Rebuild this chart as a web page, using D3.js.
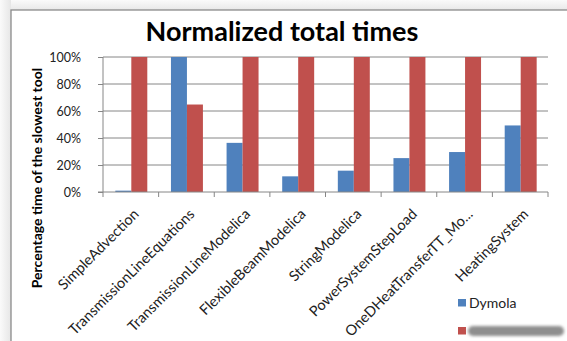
<!DOCTYPE html>
<html>
<head>
<meta charset="utf-8">
<script src="https://cdn.jsdelivr.net/npm/d3@7/dist/d3.min.js"></script>
<style>
  html, body { margin: 0; padding: 0; background: #fff; }
  svg { display: block; }
</style>
</head>
<body>
<svg id="chart" width="567" height="341"></svg>
<script>
// Benchmark models and normalized total simulation times (share of the slowest tool)
const categories = [
  "SimpleAdvection",
  "TransmissionLineEquations",
  "TransmissionLineModelica",
  "FlexibleBeamModelica",
  "StringModelica",
  "PowerSystemStepLoad",
  "OneDHeatTransferTT_Mo...",
  "HeatingSystem"
];
const dymola = [0.01, 1.00, 0.364, 0.116, 0.158, 0.251, 0.296, 0.493];
const otherTool = [1.00, 0.648, 1.00, 1.00, 1.00, 1.00, 1.00, 1.00];
const yTicks = [0, 0.2, 0.4, 0.6, 0.8, 1.0];
const seriesNames = ["Dymola", ""];
const colors = ["#4F81BD", "#C0504D"];

const W = 567, H = 341;
const svg = d3.select("#chart");
const font = "Lato, 'Open Sans', sans-serif";

// Soft shaded surround and chart frame
const defs = svg.append("defs");
const gl = defs.append("linearGradient").attr("id", "shadeL").attr("x1", 0).attr("x2", 1);
gl.append("stop").attr("offset", 0).attr("stop-color", "#fafafa");
gl.append("stop").attr("offset", 1).attr("stop-color", "#e6e6e6");
const gt = defs.append("linearGradient").attr("id", "shadeT").attr("x1", 0).attr("x2", 0).attr("y1", 0).attr("y2", 1);
gt.append("stop").attr("offset", 0).attr("stop-color", "#fafafa");
gt.append("stop").attr("offset", 1).attr("stop-color", "#e8e8e8");
defs.append("filter").attr("id", "smudge").attr("x", "-20%").attr("y", "-60%").attr("width", "140%").attr("height", "220%")
  .append("feGaussianBlur").attr("stdDeviation", 1.6);

svg.append("rect").attr("x", 0).attr("y", 0).attr("width", W).attr("height", 10).attr("fill", "url(#shadeT)");
svg.append("rect").attr("x", 0).attr("y", 0).attr("width", 11).attr("height", H).attr("fill", "url(#shadeL)");
svg.append("rect").attr("x", 11).attr("y", 10).attr("width", W).attr("height", H)
  .attr("fill", "#fff").attr("stroke", "#8a8a8a").attr("stroke-width", 1.3);

// Plot area
const plot = { left: 103, right: 548, top: 57, bottom: 192 };

const x0 = d3.scaleBand().domain(categories).range([plot.left, plot.right]).paddingInner(0).paddingOuter(0);
const x1 = d3.scaleBand().domain([0, 1]).range([0, x0.bandwidth()]).paddingInner(0).paddingOuter(0.74);
const y = d3.scaleLinear().domain([0, 1]).range([plot.bottom, plot.top]);

// Horizontal gridlines
svg.append("g").selectAll("line").data(yTicks.slice(1)).join("line")
  .attr("x1", plot.left).attr("x2", plot.right)
  .attr("y1", d => y(d)).attr("y2", d => y(d))
  .attr("stroke", "#868686").attr("stroke-width", 1);

// Bars
const groups = svg.append("g").selectAll("g").data(categories).join("g")
  .attr("transform", d => `translate(${x0(d)},0)`);
groups.selectAll("rect")
  .data((d, i) => [dymola[i], otherTool[i]].map((v, s) => ({ v, s })))
  .join("rect")
  .attr("x", d => x1(d.s) + 0.5)
  .attr("width", x1.bandwidth())
  .attr("y", d => y(d.v))
  .attr("height", d => y(0) - y(d.v))
  .attr("fill", d => colors[d.s]);

// Y axis
const yAxis = d3.axisLeft(y).tickValues(yTicks).tickFormat(d3.format(".0%")).tickSize(5).tickPadding(17);
const gy = svg.append("g").attr("transform", `translate(${plot.left},0)`).call(yAxis);
gy.select(".domain").attr("stroke", "#868686").attr("d", `M0,${plot.top}V${plot.bottom}`);
gy.selectAll(".tick line").attr("stroke", "#868686");
gy.selectAll(".tick text").attr("font-family", font).attr("font-size", 12.5).attr("fill", "#222");

// X axis with boundary ticks between categories
const gx = svg.append("g").attr("transform", `translate(0,${plot.bottom})`);
gx.append("line").attr("x1", plot.left - 5).attr("x2", plot.right).attr("y1", 0).attr("y2", 0).attr("stroke", "#868686");
const bounds = categories.map(c => x0(c)).concat([plot.right]);
gx.selectAll("line.bt").data(bounds).join("line").attr("class", "bt")
  .attr("x1", d => d).attr("x2", d => d).attr("y1", 0).attr("y2", 5).attr("stroke", "#868686");
gx.selectAll("text").data(categories).join("text")
  .attr("transform", d => `translate(${x0(d) + x0.bandwidth() / 2 + 9},${23}) rotate(-45)`)
  .attr("text-anchor", "end")
  .attr("font-family", font).attr("font-size", 14.5).attr("fill", "#222")
  .text(d => d);

// Title
svg.append("text").attr("x", 282).attr("y", 41).attr("text-anchor", "middle")
  .attr("font-family", font).attr("font-weight", "bold").attr("font-size", 27).attr("fill", "#000")
  .text("Normalized total times");

// Y axis title
svg.append("text").attr("transform", `translate(42,178) rotate(-90)`).attr("text-anchor", "middle")
  .attr("font-family", font).attr("font-weight", "bold").attr("font-size", 14).attr("fill", "#000")
  .text("Percentage time of the slowest tool");

// Legend
const legend = svg.append("g").attr("transform", "translate(458,299)");
legend.append("rect").attr("x", 0).attr("y", 0).attr("width", 8).attr("height", 7.5).attr("fill", colors[0]);
legend.append("text").attr("x", 11).attr("y", 8.5).attr("font-family", font).attr("font-size", 14).attr("fill", "#222").text(seriesNames[0]);
legend.append("rect").attr("x", 0).attr("y", 28).attr("width", 8).attr("height", 7.5).attr("fill", colors[1]);
// obscured name of the second tool
legend.append("rect").attr("x", 10).attr("y", 27).attr("width", 96).attr("height", 10).attr("rx", 5)
  .attr("fill", "#8e8e8e").attr("filter", "url(#smudge)");
</script>
</body>
</html>
